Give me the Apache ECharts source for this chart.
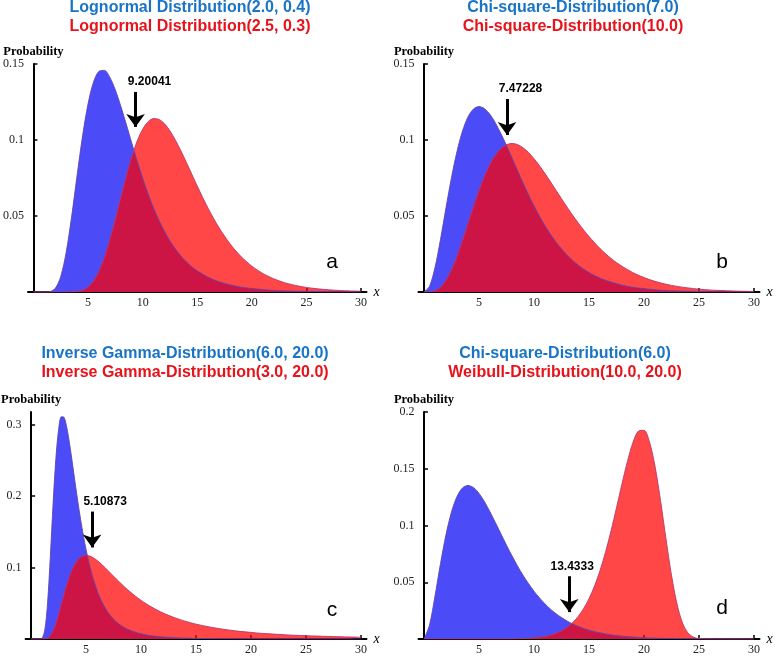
<!DOCTYPE html>
<html>
<head>
<meta charset="utf-8">
<script src="https://cdn.jsdelivr.net/npm/echarts@6/dist/echarts.min.js"></script>
<style>
  html, body { margin: 0; padding: 0; background: #fff; }
  #main { width: 778px; height: 656px; }
</style>
</head>
<body>
<div id="main"></div>
<script>
// panel a: lognormal densities
const aX = [0, 1, 1.5, 2, 2.5, 3, 3.5, 4, 4.5, 5, 5.5, 6, 6.5, 7, 7.5, 8, 8.5, 9, 9.5, 10,
  10.5, 11, 11.5, 12, 12.5, 13, 13.5, 14, 14.5, 15, 16, 17, 18, 19, 20, 21, 22, 23, 24, 25, 26, 27, 28, 29, 30]
const aBlue = [0, 0, 0.0002, 0.0024, 0.0102, 0.0262, 0.0498, 0.0769, 0.1028, 0.1238, 0.1381, 0.1452, 0.1458, 0.1412, 0.1329, 0.1222, 0.1104, 0.0981, 0.0862, 0.0749,
  0.0646, 0.0553, 0.0471, 0.0399, 0.0336, 0.0283, 0.0237, 0.0199, 0.0166, 0.0139, 0.0097, 0.0067, 0.0047, 0.0032, 0.0023, 0.0016, 0.0011, 0.0008, 0.0005, 0.0004, 0.0003, 0.0002, 0.0001, 0.0001, 0.0001]
const aRed = [0, 0, 0, 0, 0, 0, 0.0001, 0.0003, 0.0012, 0.0032, 0.0072, 0.0137, 0.0228, 0.0345, 0.048, 0.0622, 0.0762, 0.0888, 0.0993, 0.1071,
  0.112, 0.1141, 0.1135, 0.1107, 0.106, 0.0999, 0.0929, 0.0853, 0.0775, 0.0697, 0.055, 0.0422, 0.0317, 0.0234, 0.017, 0.0122, 0.0087, 0.0061, 0.0043, 0.003, 0.0021, 0.0015, 0.001, 0.0007, 0.0005]

// panel b: chi-square densities
const bX = [0, 0.5, 1, 1.5, 2, 2.5, 3, 3.5, 4, 4.5, 5, 5.5, 6, 6.5, 7, 7.5, 8, 8.5, 9, 9.5, 10,
  10.5, 11, 11.5, 12, 12.5, 13, 13.5, 14, 14.5, 15, 16, 17, 18, 19, 20, 21, 22, 23, 24, 25, 26, 27, 28, 29, 30]
const bBlue = [0, 0.0037, 0.0161, 0.0346, 0.0554, 0.0753, 0.0925, 0.1059, 0.1152, 0.1204, 0.122, 0.1206, 0.1168, 0.1111, 0.1041, 0.0964, 0.0882, 0.0799, 0.0718, 0.064, 0.0567,
  0.0499, 0.0436, 0.038, 0.0329, 0.0284, 0.0244, 0.0209, 0.0178, 0.0151, 0.0128, 0.0091, 0.0065, 0.0045, 0.0031, 0.0022, 0.0015, 0.001, 0.0007, 0.0005, 0.0003, 0.0002, 0.0001, 0.0001, 0.0001, 0]
const bRed = [0, 0.0001, 0.0008, 0.0031, 0.0077, 0.0146, 0.0235, 0.034, 0.0451, 0.0563, 0.0668, 0.0762, 0.084, 0.0901, 0.0944, 0.0969, 0.0977, 0.097, 0.0949, 0.0918, 0.0877,
  0.0831, 0.0779, 0.0725, 0.0669, 0.0614, 0.0559, 0.0506, 0.0456, 0.0409, 0.0365, 0.0286, 0.0221, 0.0169, 0.0127, 0.0095, 0.007, 0.0051, 0.0037, 0.0027, 0.0019, 0.0013, 0.001, 0.0007, 0.0005, 0.0003]

// panel c: inverse gamma densities
const cX = [0, 0.75, 1, 1.25, 1.5, 1.75, 2, 2.25, 2.5, 2.75, 3, 3.25, 3.5, 3.75, 4, 4.25, 4.5, 4.75, 5,
  5.5, 6, 6.5, 7, 7.5, 8, 8.5, 9, 9.5, 10, 10.5, 11, 11.5, 12, 12.5, 13, 13.5, 14, 14.5, 15,
  16, 17, 18, 19, 20, 21, 22, 23, 24, 25, 26, 27, 28, 29, 30]
const cBlue = [0, 0, 0.0011, 0.0126, 0.0506, 0.1154, 0.1892, 0.252, 0.2931, 0.3113, 0.3104, 0.296, 0.2734, 0.2469, 0.2193, 0.1925, 0.1676, 0.1451, 0.1251,
  0.0923, 0.068, 0.0502, 0.0372, 0.0278, 0.0209, 0.0158, 0.0121, 0.0093, 0.0072, 0.0056, 0.0044, 0.0035, 0.0028, 0.0023, 0.0018, 0.0015, 0.0012, 0.001, 0.0008,
  0.0006, 0.0004, 0.0003, 0.0002, 0.0002, 0.0001, 0.0001, 0.0001, 0.0001, 0, 0, 0, 0, 0, 0]
const cRed = [0, 0, 0, 0.0002, 0.0013, 0.0046, 0.0114, 0.0215, 0.0344, 0.0486, 0.0628, 0.0762, 0.0879, 0.0977, 0.1053, 0.1109, 0.1146, 0.1166, 0.1172,
  0.1152, 0.1101, 0.1033, 0.0957, 0.0879, 0.0802, 0.0729, 0.0661, 0.0598, 0.0541, 0.049, 0.0444, 0.0402, 0.0364, 0.0331, 0.0301, 0.0274, 0.025, 0.0228, 0.0208,
  0.0175, 0.0148, 0.0125, 0.0107, 0.0092, 0.0079, 0.0069, 0.006, 0.0052, 0.0046, 0.0041, 0.0036, 0.0032, 0.0028, 0.0025]

// panel d: chi-square(6) and weibull(10, 20)
const dX = [0, 0.5, 1, 1.5, 2, 2.5, 3, 3.5, 4, 4.5, 5, 5.5, 6, 6.5, 7, 7.5, 8, 8.5, 9, 9.5, 10,
  10.5, 11, 11.5, 12, 12.5, 13, 13.5, 14, 14.5, 15, 15.5, 16, 16.5, 17, 17.5, 18, 18.5, 19, 19.5, 20,
  20.5, 21, 21.5, 22, 22.5, 23, 23.5, 24, 24.5, 25, 26, 27, 28, 29, 30]
const dBlue = [0, 0.0122, 0.0379, 0.0664, 0.092, 0.1119, 0.1255, 0.1331, 0.1353, 0.1334, 0.1283, 0.1209, 0.112, 0.1024, 0.0925, 0.0827, 0.0733, 0.0644, 0.0562, 0.0488, 0.0421,
  0.0362, 0.0309, 0.0263, 0.0223, 0.0189, 0.0159, 0.0133, 0.0112, 0.0093, 0.0078, 0.0065, 0.0054, 0.0045, 0.0037, 0.003, 0.0025, 0.0021, 0.0017, 0.0014, 0.0011,
  0.0009, 0.0008, 0.0006, 0.0005, 0.0004, 0.0003, 0.0003, 0.0002, 0.0002, 0.0002, 0.0001, 0.0001, 0, 0, 0]
const dRed = [0, 0, 0, 0, 0, 0, 0, 0, 0, 0, 0, 0, 0, 0, 0, 0, 0.0001, 0.0002, 0.0004, 0.0006, 0.001,
  0.0015, 0.0023, 0.0034, 0.005, 0.0072, 0.0102, 0.0143, 0.0196, 0.0266, 0.0355, 0.0466, 0.0603, 0.0765, 0.0951, 0.1156, 0.1367, 0.1567, 0.1732, 0.1832, 0.1839,
  0.1736, 0.1522, 0.1221, 0.0881, 0.0561, 0.0308, 0.0141, 0.0053, 0.0016, 0.0003, 0, 0, 0, 0, 0]

const blueTitles = ['Lognormal Distribution(2.0, 0.4)', 'Chi-square-Distribution(7.0)', 'Inverse Gamma-Distribution(6.0, 20.0)', 'Chi-square-Distribution(6.0)']
const redTitles = ['Lognormal Distribution(2.5, 0.3)', 'Chi-square-Distribution(10.0)', 'Inverse Gamma-Distribution(3.0, 20.0)', 'Weibull-Distribution(10.0, 20.0)']
const panelLetters = ['a', 'b', 'c', 'd']
const xTicks = [5, 10, 15, 20, 25, 30]
const yTicks = [[0.05, 0.1, 0.15], [0.05, 0.1, 0.15], [0.1, 0.2, 0.3], [0.05, 0.1, 0.15, 0.2]]
const yMax = [0.15, 0.15, 0.318, 0.2]
const arrowLabels = ['9.20041', '7.47228', '5.10873', '13.4333']
const arrowX = [9.35, 7.55, 5.55, 13.2]
const arrowTop = [0.1316, 0.127, 0.1785, 0.0553]
const arrowTip = [0.1086, 0.1033, 0.1283, 0.0237]

const panels = [
  { xs: aX, blue: aBlue, red: aRed },
  { xs: bX, blue: bBlue, red: bRed },
  { xs: cX, blue: cBlue, red: cRed },
  { xs: dX, blue: dBlue, red: dRed }
]

// panel placement (x = 0 sits 5.5px right of the grid's left edge)
const layout = [
  { left: 25.5, top: 64, cx: 190, ty: 8, lx: 332, ly: 262, lo: 14 },
  { left: 418.5, top: 64, cx: 573, ty: 8, lx: 722, ly: 262, lo: 13.5 },
  { left: 25.5, top: 412, cx: 185, ty: 354, lx: 332, ly: 610, lo: 13 },
  { left: 418.5, top: 412, cx: 565, ty: 354, lx: 722, ly: 608, lo: 3 }
]

const zip = (xs, ys) => xs.map((x, i) => [x, ys[i]])

const chart = echarts.init(document.getElementById('main'))

const grid = []
const xAxis = []
const yAxis = []
const series = []
const graphic = []

panels.forEach((p, i) => {
  const L = layout[i]
  grid.push({ left: L.left, top: L.top, width: 341, height: 228 })
  xAxis.push({
    gridIndex: i,
    type: 'value',
    min: -0.5,
    max: 30.5,
    name: 'x',
    nameLocation: 'end',
    nameGap: 7,
    nameTextStyle: { fontFamily: 'Liberation Serif', fontStyle: 'italic', fontSize: 14, color: '#000' },
    axisLine: { onZero: false, lineStyle: { color: '#000', width: 2 } },
    axisTick: { inside: true, length: 4, customValues: xTicks, lineStyle: { color: '#000', width: 1.5 } },
    axisLabel: { customValues: xTicks, fontFamily: 'Liberation Serif', fontSize: 12, color: '#222', margin: 5 },
    splitLine: { show: false }
  })
  yAxis.push({
    gridIndex: i,
    type: 'value',
    min: 0,
    max: yMax[i],
    name: 'Probability',
    nameLocation: 'end',
    nameGap: 6,
    nameTextStyle: { fontFamily: 'Liberation Serif', fontWeight: 'bold', fontSize: 12.5, color: '#000' },
    axisLine: { show: true, onZero: true, lineStyle: { color: '#000', width: 2 } },
    axisTick: { show: true, inside: true, length: 4, customValues: yTicks[i], lineStyle: { color: '#000', width: 1.5 } },
    axisLabel: { customValues: yTicks[i], fontFamily: 'Liberation Serif', fontSize: 12, color: '#222', margin: 4 },
    splitLine: { show: false }
  })

  const common = { type: 'line', xAxisIndex: i, yAxisIndex: i, showSymbol: false, smooth: 0.3, silent: true }
  series.push({ ...common, data: zip(p.xs, p.blue), lineStyle: { width: 0 }, areaStyle: { color: '#4b4bf7', opacity: 1 } })
  series.push({ ...common, data: zip(p.xs, p.red), lineStyle: { width: 0 }, areaStyle: { color: 'rgba(255,0,0,0.72)', opacity: 1 } })
  series.push({ ...common, data: zip(p.xs, p.blue), lineStyle: { color: 'rgba(95,70,175,0.9)', width: 1 } })
  series.push({
    ...common,
    data: zip(p.xs, p.red),
    lineStyle: { color: 'rgba(185,55,105,0.9)', width: 1 },
    markLine: {
      silent: true,
      symbol: ['none', 'arrow'],
      symbolSize: [14, 13],
      lineStyle: { color: '#000', width: 3, type: 'solid' },
      label: {
        show: true,
        position: 'start',
        distance: 4,
        formatter: arrowLabels[i],
        offset: [L.lo, 0],
        fontFamily: 'Liberation Sans',
        fontWeight: 'bold',
        fontSize: 12,
        color: '#000'
      },
      data: [[{ coord: [arrowX[i], arrowTop[i]] }, { coord: [arrowX[i], arrowTip[i]] }]]
    }
  })

  graphic.push({
    type: 'text', x: L.cx, y: L.ty,
    style: { text: blueTitles[i], fill: '#1a74c6', font: 'bold 16px "Liberation Sans"', textAlign: 'center', textVerticalAlign: 'middle' }
  })
  graphic.push({
    type: 'text', x: L.cx, y: L.ty + 19,
    style: { text: redTitles[i], fill: '#e8121a', font: 'bold 16px "Liberation Sans"', textAlign: 'center', textVerticalAlign: 'middle' }
  })
  graphic.push({
    type: 'text', x: L.lx, y: L.ly,
    style: { text: panelLetters[i], fill: '#000', font: '21px "Liberation Sans"', textAlign: 'center', textVerticalAlign: 'middle' }
  })
})

chart.setOption({
  backgroundColor: '#fff',
  animation: false,
  grid,
  xAxis,
  yAxis,
  series,
  graphic
})
</script>
</body>
</html>
